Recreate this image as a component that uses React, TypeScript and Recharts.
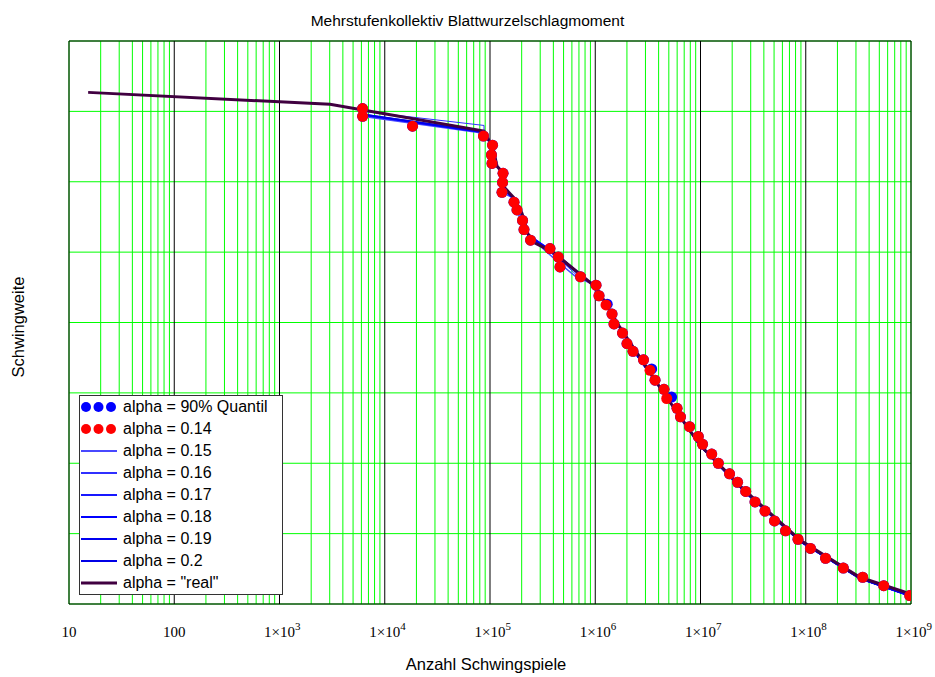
import { ComposedChart, Line, Scatter, XAxis, YAxis, CartesianGrid } from 'recharts'

// x = Anzahl Schwingspiele (log), y = Schwingweite (no labels, 0..8)
const decades = [10, 100, 1e3, 1e4, 1e5, 1e6, 1e7, 1e8, 1e9]
const minorTicks = [2, 3, 4, 5, 6, 7, 8, 9]
const yTicks = [0, 1, 2, 3, 4, 5, 6, 7, 8]
const frameTicks = [0, 8]

// alpha = 0.14 (red dots)
const redN = [6150, 6160, 18360, 86700, 105700, 103300, 104500, 133000, 131500, 130000, 169000, 180600, 203700, 210400, 242600, 371500, 445700, 462400, 724400, 1.017e6, 1.086e6, 1.265e6, 1.443e6, 1.507e6, 1.815e6, 2.003e6, 2.285e6, 2.873e6, 3.313e6, 3.698e6, 4.498e6, 4.775e6, 5.984e6, 6.457e6, 7.866e6, 9.53e6, 1.045e7, 1.277e7, 1.476e7, 1.888e7, 2.249e7, 2.691e7, 3.297e7, 4.1e7, 5.047e7, 6.427e7, 8.44e7, 1.109e8, 1.541e8, 2.275e8, 3.475e8, 5.508e8, 9.72e8]
const redS = [7.04, 6.93, 6.79, 6.65, 6.52, 6.38, 6.26, 6.12, 5.99, 5.85, 5.71, 5.6, 5.45, 5.32, 5.17, 5.05, 4.93, 4.79, 4.65, 4.53, 4.38, 4.25, 4.12, 3.98, 3.85, 3.7, 3.59, 3.47, 3.32, 3.18, 3.05, 2.92, 2.78, 2.66, 2.52, 2.38, 2.27, 2.13, 2.0, 1.85, 1.73, 1.6, 1.45, 1.32, 1.18, 1.04, 0.92, 0.79, 0.65, 0.51, 0.38, 0.26, 0.12]

// alpha = 90% Quantil (blue dots, mostly hidden under the red ones)
const quantN = [6150, 6160, 18360, 86700, 105700, 103300, 104500, 133000, 131500, 130000, 169000, 180600, 203700, 210400, 242600, 371500, 445700, 462400, 724400, 1.017e6, 1.086e6, 1.3e6, 1.443e6, 1.507e6, 1.815e6, 2.003e6, 2.285e6, 2.873e6, 3.436e6, 3.698e6, 4.498e6, 5.32e6, 5.984e6, 6.457e6, 7.866e6, 9.53e6, 1.045e7, 1.277e7, 1.476e7, 1.888e7, 2.249e7, 2.691e7, 3.297e7, 4.1e7, 5.047e7, 6.427e7, 8.44e7, 1.109e8, 1.541e8, 2.275e8, 3.475e8, 5.508e8, 9.72e8]
const quantS = [7.04, 6.93, 6.79, 6.65, 6.52, 6.38, 6.26, 6.12, 5.99, 5.85, 5.71, 5.6, 5.45, 5.32, 5.17, 5.05, 4.93, 4.79, 4.65, 4.53, 4.38, 4.26, 4.12, 3.98, 3.85, 3.7, 3.59, 3.47, 3.34, 3.18, 3.05, 2.94, 2.78, 2.66, 2.52, 2.38, 2.27, 2.13, 2.0, 1.85, 1.73, 1.6, 1.45, 1.32, 1.18, 1.04, 0.92, 0.79, 0.65, 0.51, 0.38, 0.26, 0.12]

// alpha = "real"
const realN = [15.2, 3020, 6210, 87700, 106900, 116700, 133000, 133000, 169000, 201400, 229600, 267900, 397000, 1.017e6, 1.718e6, 4.6e6, 9.89e6, 2.65e7, 8.81e7, 3.27e8, 1e9]
const realS = [7.27, 7.1, 7.02, 6.72, 6.48, 6.22, 6.12, 5.94, 5.77, 5.55, 5.26, 5.13, 5.0, 4.5, 3.93, 2.97, 2.26, 1.61, 0.91, 0.38, 0.14]

// alpha = 0.15 ... 0.2: individual heads, common tail
const head15N = [6150, 6160, 87700, 105700, 106700, 133000, 130000, 165600, 192800, 230000, 443000, 643000]
const head15S = [7.04, 6.93, 6.69, 6.52, 6.28, 6.15, 5.85, 5.77, 5.48, 5.24, 4.86, 4.66]
const head16N = [6200, 87700, 87700, 105700, 106900, 133000, 133000, 169000, 201400, 229600, 397000, 671000]
const head16S = [7.0, 6.8, 6.7, 6.52, 6.3, 6.14, 5.9, 5.74, 5.48, 5.23, 4.98, 4.67]
const head17N = [6160, 87700, 106900, 116700, 133000, 133000, 169000, 201400, 229600, 420000, 850000]
const head17S = [6.95, 6.7, 6.46, 6.22, 6.13, 5.92, 5.76, 5.52, 5.25, 4.98, 4.6]
const head19N = [6170, 87700, 106000, 112000, 133000, 133000, 169000, 201400, 229600, 400000, 800000]
const head19S = [6.96, 6.71, 6.5, 6.25, 6.14, 5.9, 5.75, 5.53, 5.24, 4.97, 4.62]
const tailN = [1.017e6, 1.443e6, 2.285e6, 4.6e6, 9.89e6, 2.65e7, 8.81e7, 3.27e8, 1e9]
const tailS = [4.52, 4.12, 3.61, 2.97, 2.25, 1.59, 0.89, 0.36, 0.11]

const legendLabels = [
    'alpha = 90% Quantil',
    'alpha = 0.14',
    'alpha = 0.15',
    'alpha = 0.16',
    'alpha = 0.17',
    'alpha = 0.18',
    'alpha = 0.19',
    'alpha = 0.2',
    'alpha = "real"',
]

const pts = (n: number[], s: number[]) => n.map((v, i) => ({ n: v, s: s[i] }))

const minorValues = decades.slice(0, -1).flatMap((d) => minorTicks.map((k) => k * d))

const blueColors = ['#4848ff', '#3030ff', '#1818ff', '#0000ff', '#0000f0', '#0000e6']
const blueWidths = [1.5, 1, 1.5, 1.5, 1.5, 1.5]
const blueLines = [
    pts([...head15N, ...tailN], [...head15S, ...tailS]),
    pts([...head16N, ...tailN], [...head16S, ...tailS]),
    pts([...head17N, ...tailN], [...head17S, ...tailS]),
    pts([...head17N, ...tailN], [...head17S, ...tailS]),
    pts([...head19N, ...tailN], [...head19S, ...tailS]),
    pts([...head19N, ...tailN], [...head19S, ...tailS]),
]
const realColor = '#400040'

const sans = '"Liberation Sans", Arial, sans-serif'
const serif = '"Liberation Serif", "Times New Roman", serif'

function DecadeTick({ x, y, payload }: any) {
    const v = payload.value as number
    const exp = Math.round(Math.log10(v))
    if (exp < 3) {
        return (
            <text x={x} y={y + 25} textAnchor="middle" fontFamily={serif} fontSize={15} fill="#000">
                {String(v)}
            </text>
        )
    }
    return (
        <g>
            <text x={x} y={y + 25} textAnchor="middle" fontFamily={serif} fontSize={15} fill="#000">
                1×10
            </text>
            <text x={x + 15.5} y={y + 18} textAnchor="start" fontFamily={serif} fontSize={11} fill="#000">
                {exp}
            </text>
        </g>
    )
}

const dot = (color: string) => (p: any) => <circle cx={p.cx} cy={p.cy} r={5.5} fill={color} />

function LegendSwatch({ i }: { i: number }) {
    if (i < 2) {
        const c = i === 0 ? '#0000ff' : '#ff0000'
        return (
            <svg width={36} height={12}>
                {[5, 17.5, 30].map((cx) => (
                    <circle key={cx} cx={cx} cy={6} r={5} fill={c} />
                ))}
            </svg>
        )
    }
    const isReal = i === 8
    return (
        <svg width={36} height={12}>
            <line x1={0} x2={36} y1={6} y2={6} stroke={isReal ? realColor : blueColors[i - 2]} strokeWidth={isReal ? 3 : 2} />
        </svg>
    )
}

export default function App() {
    return (
        <div style={{ position: 'absolute', left: 0, top: 0, width: 935, height: 677, background: '#fff', fontFamily: sans }}>
            <div style={{ position: 'absolute', left: 0, top: 12, width: 935, textAlign: 'center', fontSize: 15.5, lineHeight: '18px' }}>
                Mehrstufenkollektiv Blattwurzelschlagmoment
            </div>
            <div style={{ position: 'absolute', left: -82, top: 317, width: 200, height: 20, lineHeight: '20px', textAlign: 'center', fontSize: 16.5, transform: 'rotate(-90deg)' }}>
                Schwingweite
            </div>
            <div style={{ position: 'absolute', left: 286, top: 655, width: 400, textAlign: 'center', fontSize: 16.5, lineHeight: '19px' }}>
                Anzahl Schwingspiele
            </div>

            <ComposedChart width={935} height={677} margin={{ top: 41, right: 24, bottom: 33, left: 69 }}>
                <CartesianGrid xAxisId="minor" horizontal={false} stroke="#00ff00" />
                <CartesianGrid yAxisId={0} vertical={false} stroke="#00ff00" />
                <CartesianGrid horizontal={false} stroke="#000" />
                <CartesianGrid yAxisId="frame" vertical={false} stroke="#000" />
                <XAxis
                    dataKey="n"
                    type="number"
                    scale="log"
                    domain={[10, 1e9]}
                    ticks={decades}
                    allowDataOverflow
                    tick={<DecadeTick />}
                    tickLine={false}
                    axisLine={false}
                    height={40}
                    interval={0}
                />
                <XAxis xAxisId="minor" dataKey="n" type="number" scale="log" domain={[10, 1e9]} ticks={minorValues} allowDataOverflow hide interval={0} />
                <YAxis dataKey="s" type="number" domain={[0, 8]} ticks={yTicks} allowDataOverflow hide />
                <YAxis yAxisId="frame" dataKey="s" type="number" domain={[0, 8]} ticks={frameTicks} hide />

                <Scatter data={pts(quantN, quantS)} dataKey="s" fill="#0000ff" shape={dot('#0000ff')} isAnimationActive={false} />
                <Scatter data={pts(redN, redS)} dataKey="s" fill="#ff0000" shape={dot('#ff0000')} isAnimationActive={false} />
                {blueLines.map((d, i) => (
                    <Line
                        key={i}
                        data={d}
                        dataKey="s"
                        type="linear"
                        stroke={blueColors[i]}
                        strokeWidth={blueWidths[i]}
                        dot={false}
                        activeDot={false}
                        isAnimationActive={false}
                    />
                ))}
                <Line
                    data={pts(realN, realS)}
                    dataKey="s"
                    type="linear"
                    stroke={realColor}
                    strokeWidth={3}
                    dot={false}
                    activeDot={false}
                    isAnimationActive={false}
                />
            </ComposedChart>

            <div style={{ position: 'absolute', left: 79, top: 395, width: 202, border: '1px solid #333', background: '#fff' }}>
                {legendLabels.map((label, i) => (
                    <div key={label} style={{ display: 'flex', alignItems: 'center', height: 22, fontSize: 16, whiteSpace: 'nowrap' }}>
                        <div style={{ width: 36, marginLeft: 1, marginRight: 6, display: 'flex' }}>
                            <LegendSwatch i={i} />
                        </div>
                        {label}
                    </div>
                ))}
            </div>
        </div>
    )
}
